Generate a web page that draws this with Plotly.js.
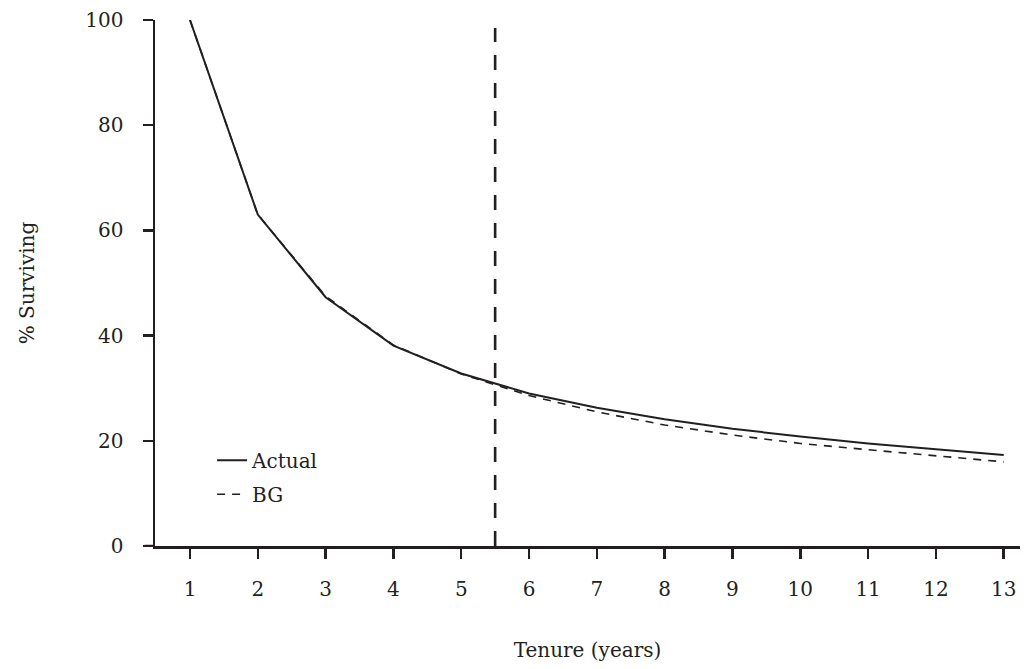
<!DOCTYPE html>
<html>
<head>
<meta charset="utf-8">
<script src="https://cdn.plot.ly/plotly-3.0.1.min.js"></script>
<style>html,body{margin:0;padding:0;background:#fff;}#chart{width:1033px;height:669px;}</style>
</head>
<body>
<div id="chart"></div>
<script>
const tenureYears = [1, 2, 3, 4, 5, 6, 7, 8, 9, 10, 11, 12, 13];
const actualSurviving = [100, 63, 47.3, 38.1, 32.8, 29.0, 26.3, 24.1, 22.3, 20.8, 19.5, 18.4, 17.3];
const bgSurviving = [100, 63, 47.5, 38.2, 32.7, 28.6, 25.5, 23.0, 21.1, 19.5, 18.3, 17.1, 16.0];
const cutoffX = [5.5, 5.5];
const cutoffY = [0, 98.5];
const yTicks = [0, 20, 40, 60, 80, 100];

const ink = '#231f20';
const fontFam = '"DejaVu Serif", "Liberation Serif", serif';

const traces = [
  {x: tenureYears, y: actualSurviving, type: 'scatter', mode: 'lines', name: 'Actual', legendgroup: 'a',
   line: {color: ink, width: 2}, cliponaxis: false},
  {x: tenureYears, y: bgSurviving, type: 'scatter', mode: 'lines', name: 'BG', legendgroup: 'b',
   line: {color: ink, width: 1.6, dash: '8px,7px'}, cliponaxis: false},
  {x: cutoffX, y: cutoffY, type: 'scatter', mode: 'lines', showlegend: false,
   line: {color: ink, width: 2.6, dash: '15px,13px'}, hoverinfo: 'skip'}
];

const layout = {
  width: 1033, height: 669,
  margin: {l: 155, r: 13, t: 20, b: 123},
  paper_bgcolor: '#fff', plot_bgcolor: '#fff',
  font: {family: fontFam, color: ink, size: 20},
  showlegend: true,
  legend: {x: 0.066, y: 0.2, xanchor: 'left', yanchor: 'top', bgcolor: 'rgba(0,0,0,0)',
           traceorder: 'grouped', tracegroupgap: 5,
           font: {family: fontFam, size: 20, color: ink}},
  xaxis: {
    range: [0.484, 13.24], tickvals: tenureYears, ticktext: tenureYears.map(String),
    showgrid: false, zeroline: false, showline: true, linecolor: ink, linewidth: 2.5,
    ticks: 'outside', ticklen: 10, tickwidth: 2.5, tickcolor: ink, ticklabelstandoff: 13,
    tickfont: {family: fontFam, size: 20, color: ink},
    title: {text: 'Tenure (years)', font: {family: fontFam, size: 20, color: ink}, standoff: 44},
    automargin: false, fixedrange: true
  },
  yaxis: {
    range: [0, 100], tickvals: yTicks,
    showgrid: false, zeroline: false, showline: true, linecolor: ink, linewidth: 2.5,
    ticks: 'outside', ticklen: 10, tickwidth: 2.5, tickcolor: ink, ticklabelstandoff: 15,
    tickfont: {family: fontFam, size: 20, color: ink},
    title: {text: '% Surviving', font: {family: fontFam, size: 20, color: ink}, standoff: 46},
    automargin: false, fixedrange: true
  },
  shapes: [
    {type: 'line', xref: 'paper', yref: 'y', x0: -0.012, x1: 0, y0: 0, y1: 0,
     line: {color: ink, width: 2.5}}
  ]
};

Plotly.newPlot('chart', traces, layout, {displayModeBar: false, staticPlot: true});
</script>
</body>
</html>
